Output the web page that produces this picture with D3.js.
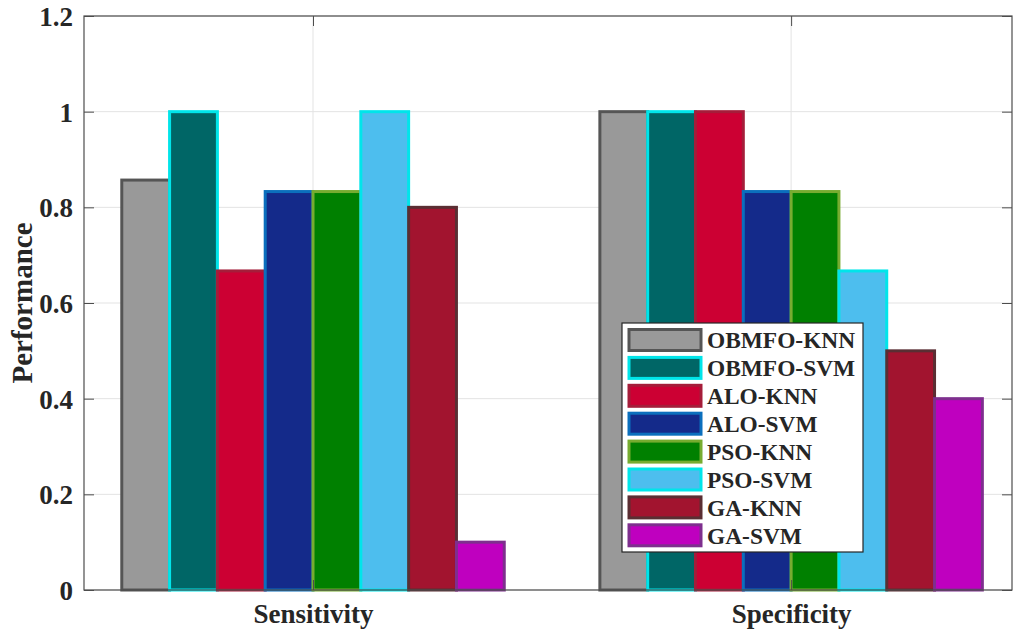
<!DOCTYPE html>
<html>
<head>
<meta charset="utf-8">
<script src="https://cdn.jsdelivr.net/npm/d3@7"></script>
<style>
  html, body { margin: 0; padding: 0; background: #fff; }
  svg { display: block; }
  text { font-family: "Liberation Serif", "Times New Roman", serif; font-weight: bold; fill: #262626; }
</style>
</head>
<body>
<svg id="chart" width="1013" height="632"></svg>
<script>
// ---- data ----
const categories = ["Sensitivity", "Specificity"];
const seriesNames = ["OBMFO-KNN", "OBMFO-SVM", "ALO-KNN", "ALO-SVM", "PSO-KNN", "PSO-SVM", "GA-KNN", "GA-SVM"];
const sensitivityValues = [0.857, 1.0, 0.667, 0.833, 0.833, 1.0, 0.8, 0.1];
const specificityValues = [1.0, 1.0, 1.0, 0.833, 0.833, 0.667, 0.5, 0.4];
const yTicks = [0, 0.2, 0.4, 0.6, 0.8, 1, 1.2];
const yTickLabels = ["0", "0.2", "0.4", "0.6", "0.8", "1", "1.2"];
const fillColors = ["#999999", "#006666", "#cc0033", "#142a8a", "#008000", "#4dbeee", "#a2142f", "#bf00bf"];
const edgeColors = ["#555555", "#00e5ea", "#a51d3a", "#0b6fbd", "#77ac30", "#00e5ea", "#5a2e33", "#7e2f8e"];

const values = [sensitivityValues, specificityValues];

// ---- layout ----
const L = 84, R = 1012, T = 16, B = 590;
const svg = d3.select("#chart");

const x = d3.scaleLinear().domain([0.521, 2.462]).range([L, R]);
const y = d3.scaleLinear().domain([0, 1.2]).range([B, T]);

const nS = seriesNames.length;
const groupWidth = 0.8;
const barW = groupWidth / nS;

// grid
const grid = svg.append("g");
grid.selectAll("line.h").data(yTicks).enter().append("line")
  .attr("x1", L).attr("x2", R)
  .attr("y1", d => y(d)).attr("y2", d => y(d))
  .attr("stroke", "#e3e3e3").attr("stroke-width", 1);
grid.selectAll("line.v").data([1, 2]).enter().append("line")
  .attr("x1", d => x(d)).attr("x2", d => x(d))
  .attr("y1", T).attr("y2", B)
  .attr("stroke", "#e3e3e3").attr("stroke-width", 1);

// bars
const bars = [];
categories.forEach((c, ci) => {
  seriesNames.forEach((s, si) => {
    bars.push({ ci, si, v: values[ci][si] });
  });
});
function barStart(d) { return (d.ci + 1) - groupWidth / 2 + d.si * barW; }
svg.append("g").selectAll("rect").data(bars).enter().append("rect")
  .attr("x", d => x(barStart(d)))
  .attr("width", d => x(barW) - x(0))
  .attr("y", d => y(d.v))
  .attr("height", d => y(0) - y(d.v))
  .attr("fill", d => fillColors[d.si])
  .attr("stroke", d => edgeColors[d.si])
  .attr("stroke-width", 3);

// axes box
svg.append("rect").attr("x", L).attr("y", T).attr("width", R - L).attr("height", B - T)
  .attr("fill", "none").attr("stroke", "#4d4d4d").attr("stroke-width", 1.2);

// y axis ticks (inward) left & right
const yAxisL = d3.axisLeft(y).tickValues(yTicks).tickFormat((d, i) => yTickLabels[i]).tickSize(-10).tickPadding(11);
const gy = svg.append("g").attr("transform", `translate(${L},0)`).call(yAxisL);
gy.select(".domain").remove();
gy.selectAll(".tick line").attr("stroke", "#4d4d4d");
gy.selectAll(".tick text").style("font-size", "27px").attr("dy", "0.35em")
  .style("font-family", "'Liberation Serif', serif").style("font-weight", "bold").attr("fill", "#262626");

const yAxisR = d3.axisRight(y).tickValues(yTicks).tickFormat("").tickSize(-10);
const gyr = svg.append("g").attr("transform", `translate(${R},0)`).call(yAxisR);
gyr.select(".domain").remove();
gyr.selectAll(".tick line").attr("stroke", "#4d4d4d");

// x axis
const xAxis = d3.axisBottom(x).tickValues([1, 2]).tickFormat((d, i) => categories[i]).tickSize(-10).tickPadding(14);
const gx = svg.append("g").attr("transform", `translate(0,${B})`).call(xAxis);
gx.select(".domain").remove();
gx.selectAll(".tick line").attr("stroke", "#4d4d4d");
gx.selectAll(".tick text").style("font-size", "27px").attr("dy", "0.71em")
  .style("font-family", "'Liberation Serif', serif").style("font-weight", "bold").attr("fill", "#262626");
const xAxisT = d3.axisTop(x).tickValues([1, 2]).tickFormat("").tickSize(-10);
const gxt = svg.append("g").attr("transform", `translate(0,${T})`).call(xAxisT);
gxt.select(".domain").remove();
gxt.selectAll(".tick line").attr("stroke", "#4d4d4d");

// y label
svg.append("text")
  .attr("transform", `translate(32,${(T + B) / 2}) rotate(-90)`)
  .attr("text-anchor", "middle")
  .style("font-size", "29px")
  .text("Performance");

// legend
const lg = svg.append("g");
const lx = 622, ly = 323, lw = 241, lh = 229;
lg.append("rect").attr("x", lx).attr("y", ly).attr("width", lw).attr("height", lh)
  .attr("fill", "#fff").attr("stroke", "#262626").attr("stroke-width", 1.2);
const rowH = 27.9;
const rows = lg.selectAll("g.row").data(seriesNames).enter().append("g")
  .attr("transform", (d, i) => `translate(0,${ly + 17 + i * rowH})`);
rows.append("rect").attr("x", 629).attr("y", -10.5).attr("width", 72).attr("height", 21)
  .attr("fill", (d, i) => fillColors[i]).attr("stroke", (d, i) => edgeColors[i]).attr("stroke-width", 3);
rows.append("text").attr("x", 707).attr("y", 0).attr("dy", "0.35em")
  .style("font-size", "23.4px").text(d => d);
</script>
</body>
</html>
